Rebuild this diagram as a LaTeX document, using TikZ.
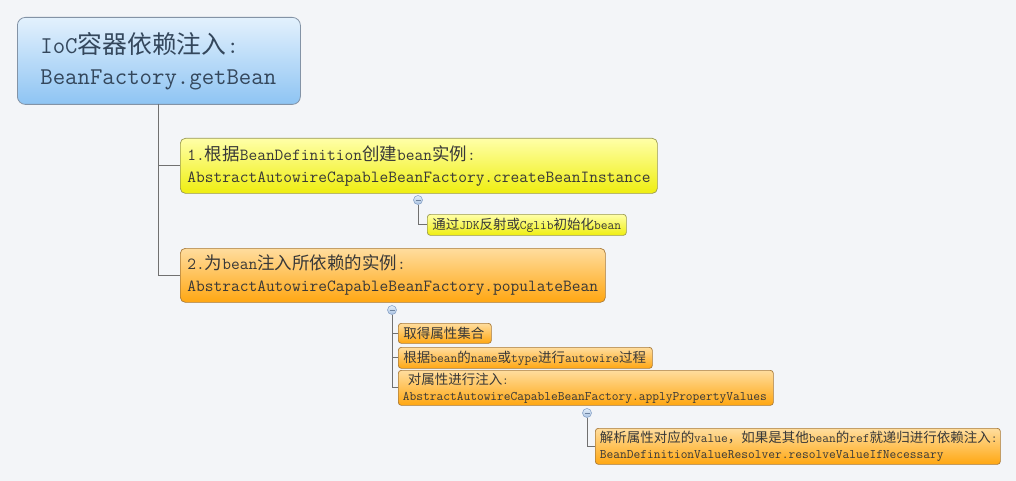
\documentclass[tikz,border=0pt]{standalone}
\usepackage{fontspec}
\setmainfont{Latin Modern Mono}
\newfontfamily\cjkf{Noto Sans CJK SC}[Scale=1.03]
\newcommand{\C}[1]{{\cjkf #1}}
\definecolor{bgc}{HTML}{F3F5F8}
\definecolor{rootTop}{HTML}{E3F1FD}
\definecolor{rootBot}{HTML}{8EC4F3}
\definecolor{rootLine}{HTML}{8393A6}
\definecolor{yelTop}{HTML}{FFFFA8}
\definecolor{yelBot}{HTML}{EFEE10}
\definecolor{yelLine}{HTML}{9A9A50}
\definecolor{orTop}{HTML}{FFDD9E}
\definecolor{orBot}{HTML}{FFA712}
\definecolor{orLine}{HTML}{A87A3A}
\definecolor{conn}{HTML}{707070}
\definecolor{txt}{HTML}{383838}
\definecolor{rootTxt}{HTML}{34475C}
\definecolor{dotTop}{HTML}{E4EEF9}
\definecolor{dotBot}{HTML}{A8C2E2}
\definecolor{dotLine}{HTML}{8AA4C8}
\begin{document}
\begin{tikzpicture}[x=1pt,y=-1pt,
  box/.style={draw, anchor=north west, align=left, inner ysep=0pt, text=txt},
  rootbox/.style={box, rounded corners=8pt, top color=rootTop, bottom color=rootBot, draw=rootLine, text=rootTxt,
     font=\fontsize{24.1}{31}\selectfont, inner xsep=23pt, line width=0.8pt},
  yelbig/.style={box, rounded corners=5pt, top color=yelTop, bottom color=yelBot, draw=yelLine,
     font=\fontsize{16.97}{22}\selectfont, inner xsep=7pt, line width=0.7pt},
  orbig/.style={box, rounded corners=5pt, top color=orTop, bottom color=orBot, draw=orLine,
     font=\fontsize{16.97}{22}\selectfont, inner xsep=7pt, line width=0.7pt},
  yelsmall/.style={box, rounded corners=3pt, top color=yelTop, bottom color=yelBot, draw=yelLine,
     font=\fontsize{13.09}{16}\selectfont, inner xsep=5pt, line width=0.7pt},
  orsmall/.style={box, rounded corners=3pt, top color=orTop, bottom color=orBot, draw=orLine,
     font=\fontsize{13.09}{16}\selectfont, inner xsep=5pt, line width=0.7pt},
  dot/.style={circle, draw=dotLine, top color=dotTop, bottom color=dotBot, minimum size=9pt, inner sep=0pt, line width=0.6pt,
     path picture={\draw[dotLine!80!black, line width=0.6pt] ([xshift=-2.5pt]path picture bounding box.center) -- ([xshift=2.5pt]path picture bounding box.center);}},
  link/.style={draw=conn, line width=0.9pt}
]
\fill[bgc] (0,0) rectangle (1016,481);
\useasboundingbox (0,0) rectangle (1016,481);

% root
\node[rootbox, minimum width=283pt, minimum height=87pt, text width=237pt] (root) at (17,17)
  {IoC\C{容器依赖注入}:\\BeanFactory.getBean};

% level 1
\node[yelbig, minimum width=477pt, minimum height=55pt, text width=463pt] (n1) at (180,138)
  {1.\C{根据}BeanDefinition\C{创建}bean\C{实例}:\\AbstractAutowireCapableBeanFactory.createBeanInstance};
\node[orbig, minimum width=425pt, minimum height=54pt, text width=411pt] (n2) at (180,248)
  {2.\C{为}bean\C{注入所依赖的实例}:\\AbstractAutowireCapableBeanFactory.populateBean};

\coordinate (rj) at (158,104);
\draw[link] (rj) |- (n1.west);
\draw[link] (rj) |- (n2.west);

% children of n1
\node[dot] (d1) at (418,200) {};
\node[yelsmall, minimum width=199pt, minimum height=21pt, text width=189pt] (n11) at (427,214)
  {\C{通过}JDK\C{反射或}Cglib\C{初始化}bean};
\draw[link] (d1.south) |- (n11.west);

% children of n2
\node[dot] (d2) at (392,310) {};
\node[orsmall, minimum width=93pt, minimum height=20pt, text width=83pt] (n21) at (398,323)
  {\C{取得属性集合}};
\node[orsmall, minimum width=254pt, minimum height=21pt, text width=244pt] (n22) at (398,347)
  {\C{根据}bean\C{的}name\C{或}type\C{进行}autowire\C{过程}};
\node[orsmall, minimum width=375pt, minimum height=35pt, text width=366pt, inner xsep=4.5pt] (n23) at (398,370)
  {\hspace{5pt}\C{对属性进行注入}:\\AbstractAutowireCapableBeanFactory.applyPropertyValues};
\draw[link] (d2.south) |- (n21.west);
\draw[link] (d2.south) |- (n22.west);
\draw[link] (d2.south) |- (n23.west);

% child of n23
\node[dot] (d3) at (587,413) {};
\node[orsmall, minimum width=405pt, minimum height=36pt, text width=396pt, inner xsep=4.5pt] (n231) at (595,428)
  {\C{解析属性对应的}value\C{，如果是其他}bean\C{的}ref\C{就递归进行依赖注入}:\\BeanDefinitionValueResolver.resolveValueIfNecessary};
\draw[link] (d3.south) |- (n231.west);
\end{tikzpicture}
\end{document}
